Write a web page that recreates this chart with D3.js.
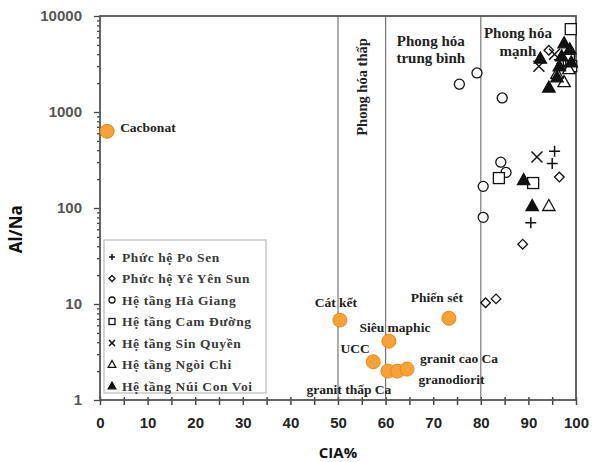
<!DOCTYPE html>
<html>
<head>
<meta charset="utf-8">
<script src="https://cdn.jsdelivr.net/npm/d3@7"></script>
<style>
  body { margin: 0; background: #fff; }
  svg { display: block; }
</style>
</head>
<body>
<div id="chart"></div>
<script>
// reference rocks (orange dots)
const refNames = ["Cacbonat", "Cát kết", "Phiến sét", "Siêu maphic", "UCC", "granit thấp Ca", "granodiorit", "granit cao Ca"];
const refCIA = [1.5, 50.4, 73.3, 60.7, 57.4, 60.5, 62.5, 64.5];
const refAlNa = [630, 6.8, 7.1, 4.1, 2.5, 2.0, 2.0, 2.1];

// sample series: [CIA, Al/Na]
const seriesNames = ["Phức hệ Po Sen", "Phức hệ Yê Yên Sun", "Hệ tầng Hà Giang", "Hệ tầng Cam Đường", "Hệ tầng Sin Quyền", "Hệ tầng Ngòi Chi", "Hệ tầng Núi Con Voi"];
const poSen = [[95.5, 390], [95.0, 290], [90.5, 70], [96.5, 3500], [98.0, 3000]];
const yeYenSun = [[96.5, 210], [88.8, 42], [81.0, 10.3], [83.2, 11.3], [94.3, 4400], [97.0, 3200]];
const haGiang = [[75.5, 1950], [79.2, 2550], [84.5, 1400], [84.2, 300], [85.3, 235], [80.5, 168], [80.5, 80]];
const camDuong = [[98.9, 7300], [83.8, 205], [91.0, 182], [98.5, 3500], [99.0, 3000]];
const sinQuyen = [[91.8, 340], [92.2, 3000], [95.5, 4000]];
const ngoiChi = [[94.3, 105], [97.5, 2050], [96.0, 2500], [98.5, 2800]];
const nuiConVoi = [[89.0, 195], [90.8, 105], [97.5, 5200], [92.5, 3600], [94.3, 1800], [96.0, 2300], [98.7, 4500], [97.0, 3800], [99.0, 3300], [96.5, 3000]];

const zoneLines = [50, 60, 80];
const xTicks = [0, 10, 20, 30, 40, 50, 60, 70, 80, 90, 100];
const yTicks = [1, 10, 100, 1000, 10000];

let margin = { top: 16, right: 16, bottom: 62, left: 100 },
    width = 592 - margin.left - margin.right,
    height = 462 - margin.top - margin.bottom;

let svg = d3.select("#chart")
    .append("svg")
    .attr("width", 592)
    .attr("height", 462)
    .append("g")
    .attr("transform", "translate(" + margin.left + "," + margin.top + ")");

let x = d3.scaleLinear().domain([0, 100]).range([0, width]);
let y = d3.scaleLog().domain([1, 10000]).range([height, 0]);

// minor ticks
let xMinor = d3.range(5, 100, 10);
let yMinor = [];
yTicks.slice(0, -1).forEach(function (t) {
    for (let k = 2; k < 10; k++) yMinor.push(t * k);
});

// x axis
let gx = svg.append("g").attr("transform", "translate(0," + height + ")");
gx.call(d3.axisBottom(x).tickValues(xTicks).tickSize(5).tickPadding(12).tickFormat(d3.format("d")));
gx.append("g").call(d3.axisBottom(x).tickValues(xMinor).tickSize(5).tickFormat(""));
gx.selectAll(".tick line").attr("y1", -3).attr("stroke", "#444").attr("stroke-width", 1.5);
gx.selectAll(".domain").remove();
gx.selectAll("text")
    .attr("fill", "#222")
    .style("font-family", "'Liberation Sans', Arial, sans-serif")
    .style("font-weight", "bold")
    .style("font-size", "15px");

// y axis
let gy = svg.append("g");
gy.call(d3.axisLeft(y).tickValues(yTicks).tickSize(6).tickPadding(12).tickFormat(d3.format("d")));
gy.append("g").call(d3.axisLeft(y).tickValues(yMinor).tickSize(3).tickFormat(""));
gy.selectAll(".tick line").attr("stroke", "#444").attr("stroke-width", 1.3);
gy.selectAll(".domain").remove();
gy.selectAll("text")
    .attr("fill", "#555")
    .style("font-family", "'Liberation Sans', Arial, sans-serif")
    .style("font-weight", "bold")
    .style("font-size", "15px");

// zone lines
svg.selectAll("zone")
    .data(zoneLines)
    .enter()
    .append("line")
    .attr("x1", function (d) { return x(d); })
    .attr("x2", function (d) { return x(d); })
    .attr("y1", 0)
    .attr("y2", height)
    .attr("stroke", "#777")
    .attr("stroke-width", 1.2);

// frame
svg.append("rect")
    .attr("x", 0).attr("y", 0)
    .attr("width", width).attr("height", height)
    .attr("fill", "none")
    .attr("stroke", "#555")
    .attr("stroke-width", 1.8);

// axis titles
svg.append("text")
    .attr("x", width / 2)
    .attr("y", height + 58)
    .attr("text-anchor", "middle")
    .style("font-family", "'Open Sans', 'Liberation Sans', sans-serif")
    .style("font-weight", "bold")
    .style("font-size", "15px")
    .attr("fill", "#111")
    .text("CIA%");

svg.append("text")
    .attr("transform", "translate(" + (-78) + "," + (y(60)) + ")rotate(-90)")
    .attr("text-anchor", "middle")
    .style("font-family", "'Open Sans', 'Liberation Sans', sans-serif")
    .style("font-weight", "bold")
    .style("font-size", "17px")
    .attr("fill", "#111")
    .text("Al/Na");

const serif = "'Liberation Serif', 'Times New Roman', serif";

// zone captions
svg.append("text")
    .attr("transform", "translate(" + (x(55) + 5) + ",71)rotate(-90)")
    .attr("text-anchor", "middle")
    .style("font-family", serif).style("font-weight", "bold").style("font-size", "14.5px")
    .attr("fill", "#222")
    .text("Phong hóa thấp");

let mid = svg.append("text")
    .attr("text-anchor", "middle")
    .style("font-family", serif).style("font-weight", "bold").style("font-size", "15px")
    .attr("fill", "#222");
mid.append("tspan").attr("x", x(69.5)).attr("y", 30).text("Phong hóa");
mid.append("tspan").attr("x", x(69.5)).attr("y", 47).text("trung bình");

let strong = svg.append("text")
    .attr("text-anchor", "middle")
    .style("font-family", serif).style("font-weight", "bold").style("font-size", "15px")
    .attr("fill", "#222");
strong.append("tspan").attr("x", x(87.8)).attr("y", 22).text("Phong hóa");
strong.append("tspan").attr("x", x(87.8)).attr("y", 40).text("mạnh");

// legend
let legend = svg.append("g").attr("transform", "translate(4,224)");
legend.append("rect")
    .attr("width", 162).attr("height", 153)
    .attr("fill", "#fff")
    .attr("stroke", "#bbb")
    .attr("stroke-width", 1.2);

// symbol drawing
function drawSymbol(g, kind, s) {
    if (kind === "plus") {
        g.append("path").attr("d", "M" + (-s) + ",0H" + s + "M0," + (-s) + "V" + s)
            .attr("stroke", "#111").attr("stroke-width", 1.5).attr("fill", "none");
    } else if (kind === "cross") {
        g.append("path").attr("d", "M" + (-s) + "," + (-s) + "L" + s + "," + s + "M" + (-s) + "," + s + "L" + s + "," + (-s))
            .attr("stroke", "#111").attr("stroke-width", 1.5).attr("fill", "none");
    } else if (kind === "diamond") {
        g.append("path").attr("d", "M0," + (-s) + "L" + s + ",0L0," + s + "L" + (-s) + ",0Z")
            .attr("stroke", "#111").attr("stroke-width", 1.3).attr("fill", "#fff");
    } else if (kind === "circle") {
        g.append("circle").attr("r", s)
            .attr("stroke", "#111").attr("stroke-width", 1.3).attr("fill", "#fff");
    } else if (kind === "square") {
        g.append("rect").attr("x", -s).attr("y", -s).attr("width", 2 * s).attr("height", 2 * s)
            .attr("stroke", "#111").attr("stroke-width", 1.3).attr("fill", "#fff");
    } else if (kind === "tri" || kind === "triFill") {
        g.append("path").attr("d", "M0," + (-s) + "L" + (s * 0.95) + "," + (s * 0.7) + "L" + (-s * 0.95) + "," + (s * 0.7) + "Z")
            .attr("stroke", "#111").attr("stroke-width", 1.3)
            .attr("fill", kind === "triFill" ? "#111" : "#fff");
    }
}

const kinds = ["plus", "diamond", "circle", "square", "cross", "tri", "triFill"];
const allSeries = [poSen, yeYenSun, haGiang, camDuong, sinQuyen, ngoiChi, nuiConVoi];
const markSize = [5.5, 4.8, 5, 5.5, 5.5, 6.5, 6.5];

seriesNames.forEach(function (name, i) {
    let row = legend.append("g").attr("transform", "translate(8," + (17 + i * 21.5) + ")");
    drawSymbol(row, kinds[i], kinds[i] === "tri" || kinds[i] === "triFill" ? 4 : 3);
    row.append("text")
        .attr("x", 10)
        .attr("y", 4.5)
        .style("font-family", serif).style("font-weight", "bold").style("font-size", "13.5px")
        .style("letter-spacing", "0.6px")
        .attr("fill", "#3a3a3a")
        .text(name);
});

// data points
allSeries.forEach(function (data, i) {
    svg.append("g")
        .selectAll("g")
        .data(data)
        .enter()
        .append("g")
        .attr("transform", function (d) { return "translate(" + x(d[0]) + "," + y(d[1]) + ")"; })
        .each(function () { drawSymbol(d3.select(this), kinds[i], markSize[i]); });
});

// reference rocks
const labelPos = {
    "Cacbonat": [13, 0.5, "start"],
    "Cát kết": [-4, -13.5, "middle"],
    "Phiến sét": [-12, -16.5, "middle"],
    "Siêu maphic": [6, -9.5, "middle"],
    "UCC": [-18, -8.5, "middle"],
    "granit thấp Ca": [-39, 22.5, "middle"],
    "granodiorit": [21, 12.5, "start"],
    "granit cao Ca": [13, -6.5, "start"]
};

let refs = refNames.map(function (n, i) { return { name: n, cia: refCIA[i], alna: refAlNa[i] }; });

svg.selectAll("refdot")
    .data(refs)
    .enter()
    .append("circle")
    .attr("cx", function (d) { return x(d.cia); })
    .attr("cy", function (d) { return y(d.alna); })
    .attr("r", 7)
    .attr("fill", "#F7A234")
    .attr("stroke", "#E48A1C")
    .attr("stroke-width", 1);

svg.selectAll("reflabel")
    .data(refs)
    .enter()
    .append("text")
    .attr("x", function (d) { return x(d.cia) + labelPos[d.name][0]; })
    .attr("y", function (d) { return y(d.alna) + labelPos[d.name][1]; })
    .attr("text-anchor", function (d) { return labelPos[d.name][2]; })
    .style("font-family", serif).style("font-weight", "bold").style("font-size", "13.5px")
    .attr("fill", "#222")
    .text(function (d) { return d.name; });
</script>
</body>
</html>
